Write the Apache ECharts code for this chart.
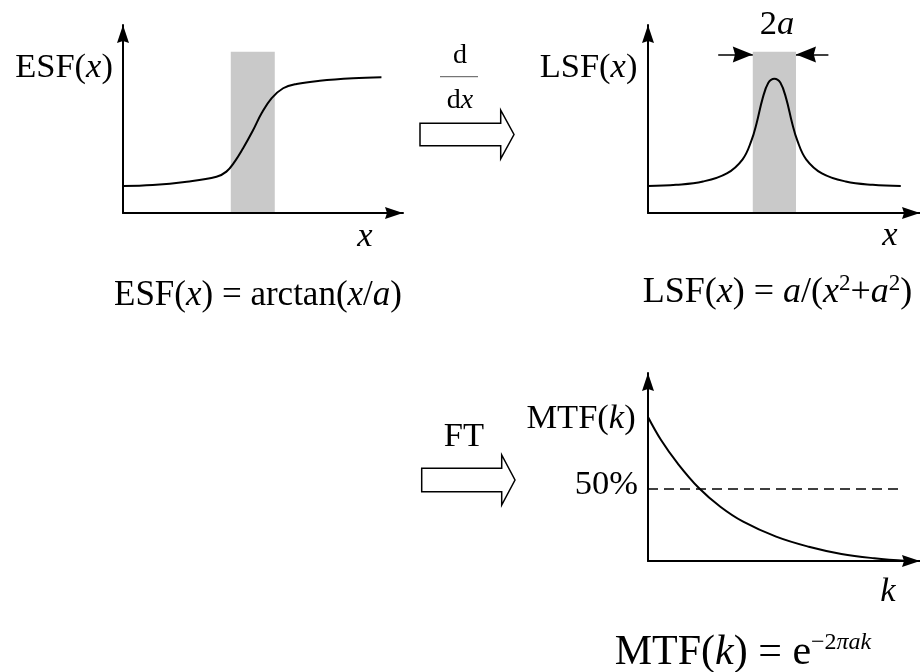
<!DOCTYPE html>
<html>
<head>
<meta charset="utf-8">
<title>ESF / LSF / MTF</title>
<style>
html, body { margin: 0; padding: 0; background: #fff; }
#container { width: 920px; height: 672px; }
</style>
</head>
<body>
<div id="container"></div>
<script src="https://cdn.jsdelivr.net/npm/echarts/dist/echarts.min.js"></script>
<script>
var dom = document.getElementById("container");
var myChart = echarts.init(dom);

// x in units of a, y in plot units (upper plots: axis height 1.4)
var esfCurve = [
    [-5.9, 0.201], [-4.55, 0.208], [-3.0, 0.233], [-1.65, 0.270], [-1.2, 0.308],
    [-0.82, 0.382], [-0.44, 0.482], [0, 0.612], [0.4, 0.742], [0.85, 0.854],
    [1.38, 0.929], [1.99, 0.961], [3.05, 0.985], [4.56, 1.003], [5.85, 1.010]
];
var lsfCurve = [
    [-5.85, 0.201], [-4.55, 0.21], [-3.3, 0.235], [-2.2, 0.295], [-1.47, 0.40],
    [-1.06, 0.54], [-0.82, 0.67], [-0.55, 0.85], [-0.28, 0.97], [0, 1.0],
    [0.28, 0.97], [0.55, 0.85], [0.82, 0.67], [1.06, 0.54], [1.47, 0.40],
    [2.2, 0.295], [3.3, 0.235], [4.55, 0.21], [5.85, 0.201]
];
// k on a 0..1 axis, MTF normalised to 1 at k = 0
var mtfCurve = [
    [0, 1.0], [0.048, 0.84], [0.109, 0.678], [0.188, 0.505], [0.266, 0.377],
    [0.35, 0.273], [0.471, 0.169], [0.591, 0.099], [0.711, 0.049], [0.832, 0.019],
    [0.953, 0.0]
];
var halfLine = [[0, 0.5], [0.94, 0.5]];
var bandX = [-1, 1];        // the 2a strip
var bandTop = 1.2;
var widthMarkY = 1.18;
var widthMarkFrom = [-2.6, 2.5];

var serif = '"Liberation Serif", "Times New Roman", serif';
var arrowHead = 'path://M6,0 L12,18 L6,16 L0,18 Z';

function arrowAxis(gridIndex, min, max) {
    return {
        type: 'value',
        gridIndex: gridIndex,
        min: min,
        max: max,
        z: 5,
        axisLine: {
            show: true,
            onZero: false,
            symbol: ['none', arrowHead],
            symbolSize: [12, 18],
            symbolOffset: [0, -9],
            lineStyle: { color: '#000', width: 2 }
        },
        axisTick: { show: false },
        axisLabel: { show: false },
        splitLine: { show: false }
    };
}

function curve(index, data) {
    return {
        type: 'line',
        xAxisIndex: index,
        yAxisIndex: index,
        data: data,
        smooth: 0.4,
        showSymbol: false,
        silent: true,
        lineStyle: { color: '#000', width: 2 }
    };
}

function band() {
    return {
        silent: true,
        itemStyle: { color: '#c9c9c9' },
        data: [[{ coord: [bandX[0], 0] }, { coord: [bandX[1], bandTop] }]]
    };
}

var rich = {
    n: { fontFamily: serif, fontSize: 35, lineHeight: 40 },
    i: { fontFamily: serif, fontSize: 35, lineHeight: 40, fontStyle: 'italic' },
    ln: { fontFamily: serif, fontSize: 36, lineHeight: 42 },
    lni: { fontFamily: serif, fontSize: 36, lineHeight: 42, fontStyle: 'italic' },
    s: { fontFamily: serif, fontSize: 23, lineHeight: 23, verticalAlign: 'top' },
    m: { fontFamily: serif, fontSize: 42, lineHeight: 44 },
    mi: { fontFamily: serif, fontSize: 42, lineHeight: 44, fontStyle: 'italic' },
    ms: { fontFamily: serif, fontSize: 24, lineHeight: 24, verticalAlign: 'top' },
    msi: { fontFamily: serif, fontSize: 24, lineHeight: 24, verticalAlign: 'top', fontStyle: 'italic' },
    l: { fontFamily: serif, fontSize: 34.5, lineHeight: 38 },
    li: { fontFamily: serif, fontSize: 34.5, lineHeight: 38, fontStyle: 'italic' },
    d: { fontFamily: serif, fontSize: 28 },
    di: { fontFamily: serif, fontSize: 28, fontStyle: 'italic' }
};

function label(text, x, y, align) {
    return {
        type: 'text',
        silent: true,
        style: {
            text: text, x: x, y: y,
            fill: '#000',
            align: align || 'center', verticalAlign: 'middle',
            textAlign: align || 'center', textVerticalAlign: 'middle',
            rich: rich
        }
    };
}

function blockArrow(x0, x1, x2, yc, body, head) {
    return {
        type: 'polygon',
        silent: true,
        shape: {
            points: [
                [x0, yc - body], [x1, yc - body], [x1, yc - head], [x2, yc],
                [x1, yc + head], [x1, yc + body], [x0, yc + body]
            ]
        },
        style: { fill: '#fff', stroke: '#000', lineWidth: 1.5 }
    };
}

option = {
    animation: false,
    backgroundColor: '#fff',
    grid: [
        { left: 123, top: 25, width: 280, height: 188 },
        { left: 648, top: 25, width: 277, height: 188 },
        { left: 648, top: 373, width: 277, height: 188 }
    ],
    xAxis: [
        arrowAxis(0, -5.9, 6.83),
        arrowAxis(1, -5.85, 6.74),
        arrowAxis(2, 0, 1)
    ],
    yAxis: [
        arrowAxis(0, 0, 1.4),
        arrowAxis(1, 0, 1.4),
        arrowAxis(2, 0, 1.306)
    ],
    series: [
        Object.assign(curve(0, esfCurve), { markArea: band() }),
        Object.assign(curve(1, lsfCurve), {
            markArea: band(),
            markLine: {
                silent: true,
                symbol: ['none', arrowHead],
                symbolSize: [16, 20],
                symbolOffset: [0, [0, 10]],
                label: { show: false },
                lineStyle: { color: '#000', width: 1.5, type: 'solid' },
                data: [
                    [{ coord: [widthMarkFrom[0], widthMarkY] }, { coord: [bandX[0], widthMarkY] }],
                    [{ coord: [widthMarkFrom[1], widthMarkY] }, { coord: [bandX[1], widthMarkY] }]
                ]
            }
        }),
        curve(2, mtfCurve),
        {
            type: 'line',
            xAxisIndex: 2,
            yAxisIndex: 2,
            data: halfLine,
            showSymbol: false,
            silent: true,
            lineStyle: { color: '#000', width: 1.5, type: [10, 6] }
        }
    ],
    graphic: [
        label('{l|ESF(}{li|x}{l|)}', 64, 67.8),
        label('{l|LSF(}{li|x}{l|)}', 588.5, 67.8),
        label('{l|MTF(}{li|k}{l|)}', 581, 418.8),
        label('{l|50%}', 638, 484.8, 'right'),
        label('{li|x}', 365, 236.8),
        label('{li|x}', 890, 235.8),
        label('{li|k}', 888, 591.8),
        label('{l|2}{li|a}', 777, 24.8),
        label('{l|FT}', 464, 437),
        label('{d|d}', 460, 55.5),
        label('{d|d}{di|x}', 460, 100.5),
        {
            type: 'line', silent: true,
            shape: { x1: 440, y1: 76.7, x2: 478, y2: 76.7 },
            style: { stroke: '#555', lineWidth: 1 }
        },
        blockArrow(420, 500.7, 514, 134.5, 11.2, 24.4),
        blockArrow(421.7, 501.7, 515, 480, 11.7, 25),
        label('{n|ESF(}{i|x}{n|) = arctan(}{i|x}{n|/}{i|a}{n|)}', 258, 296),
        label('{ln|LSF(}{lni|x}{ln|) = }{lni|a}{ln|/(}{lni|x}{s|2}{ln|+}{lni|a}{s|2}{ln|)}', 777.5, 293),
        label('{m|MTF(}{mi|k}{m|) = e}{ms|\u22122}{msi|\u03c0ak}', 743, 652.5)
    ]
};

if (option && typeof option === "object") {
    myChart.setOption(option, true);
}
</script>
</body>
</html>
